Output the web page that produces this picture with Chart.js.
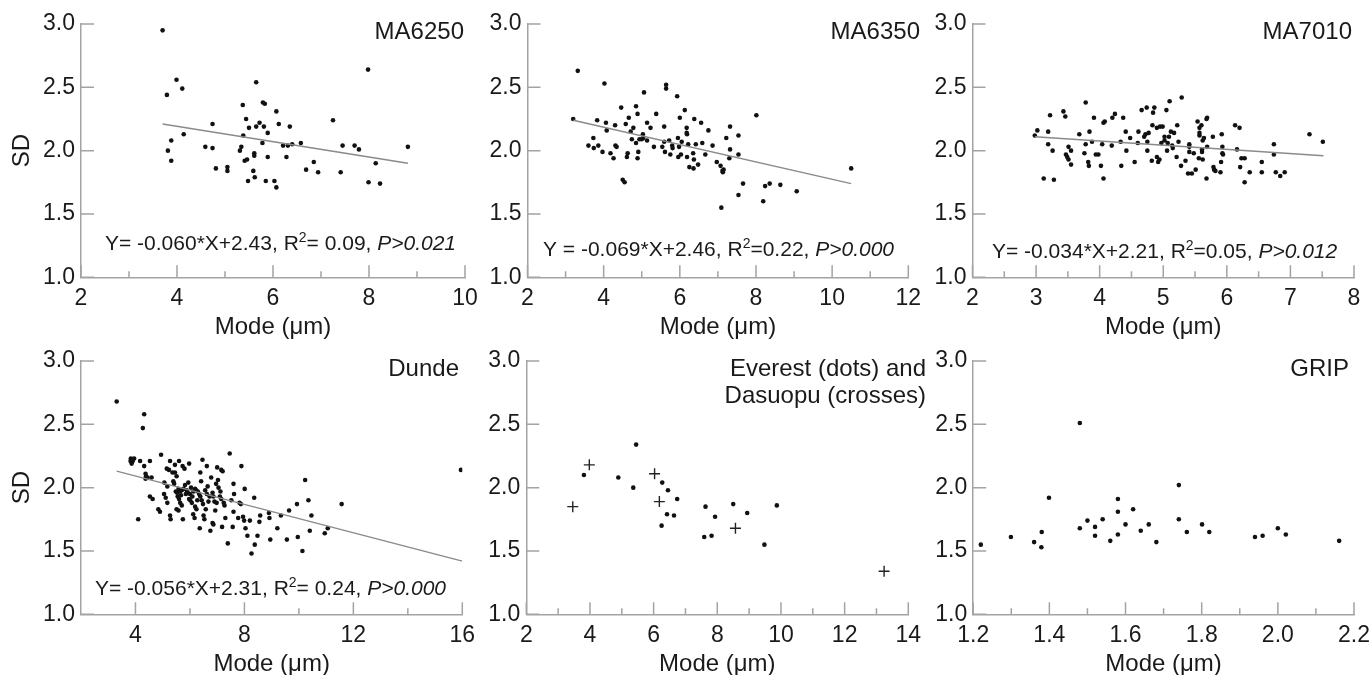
<!DOCTYPE html>
<html>
<head>
<meta charset="utf-8">
<script src="https://cdn.jsdelivr.net/npm/chart.js@4.4.0/dist/chart.umd.min.js"></script>
<style>
html, body { margin: 0; padding: 0; background: #fff; }
#wrap { position: relative; width: 1371px; height: 675px; overflow: hidden; }
#wrap canvas { position: absolute; left: 0; top: 0; }
</style>
</head>
<body>
<div id="wrap">
<canvas id="p1" width="1371" height="675"></canvas>
<canvas id="p2" width="1371" height="675"></canvas>
<canvas id="p3" width="1371" height="675"></canvas>
<canvas id="p4" width="1371" height="675"></canvas>
<canvas id="p5" width="1371" height="675"></canvas>
<canvas id="p6" width="1371" height="675"></canvas>
</div>
<script>
// tick labels
var sdTicks = [1.0, 1.5, 2.0, 2.5, 3.0];
var ma6250Ticks = [2, 4, 6, 8, 10];
var ma6350Ticks = [2, 4, 6, 8, 10, 12];
var ma7010Ticks = [2, 3, 4, 5, 6, 7, 8];
var dundeTicks = [4, 8, 12, 16];
var everestTicks = [2, 4, 6, 8, 10, 12, 14];
var gripTicks = [1.2, 1.4, 1.6, 1.8, 2.0, 2.2];

// MA6250
var ma6250X = [3.70,3.79,3.99,4.11,3.88,3.81,3.88,4.14,4.59,4.74,4.74,4.81,5.05,5.05,5.37,5.44,5.50,5.38,5.34,5.31,
  5.41,5.46,5.61,5.61,5.59,5.62,5.48,5.65,5.65,5.72,5.79,5.83,5.81,5.89,5.78,5.89,5.85,6.03,6.07,6.07,
  6.12,6.21,6.31,6.28,6.35,6.40,6.58,6.69,6.85,6.94,7.25,7.45,7.41,7.70,7.79,7.98,7.99,8.14,8.23,8.81];
var ma6250Y = [2.95,2.44,2.56,2.49,2.08,2.00,1.92,2.13,2.03,2.21,2.02,1.86,1.87,1.84,2.36,2.25,2.18,2.12,2.03,2.00,
  1.92,1.93,1.98,1.96,1.84,1.79,1.76,2.54,2.19,2.22,2.38,2.37,2.19,2.14,2.06,1.95,1.76,1.76,1.71,2.31,
  2.21,2.04,2.04,1.95,2.19,2.05,2.06,1.85,1.91,1.83,2.24,2.04,1.83,2.04,2.01,2.64,1.75,1.90,1.74,2.03];
var ma6250FitX = [3.70, 8.81];
var ma6250FitY = [2.21, 1.90];

// MA6350
var ma6350X = [3.20,3.32,3.60,3.73,3.74,3.86,3.83,4.02,4.06,4.08,3.97,4.18,4.26,4.30,4.31,4.34,4.46,4.50,4.55,4.58,
  4.63,4.61,4.66,4.71,4.78,4.74,4.85,4.89,4.85,4.91,4.89,4.94,5.03,5.04,5.00,5.06,5.14,5.23,5.14,5.32,
  5.38,5.59,5.64,5.64,5.54,5.59,5.61,5.72,5.75,5.80,5.81,5.93,5.95,5.98,5.96,6.03,6.05,6.00,6.13,6.18,
  6.18,6.19,6.19,6.22,6.25,6.35,6.37,6.38,6.36,6.42,6.48,6.56,6.59,6.67,6.75,6.86,6.97,7.07,7.12,7.15,
  7.13,7.09,7.22,7.32,7.32,7.30,7.54,7.54,7.66,7.54,8.01,8.19,8.24,8.36,8.64,9.07,10.50];
var ma6350Y = [2.25,2.63,2.04,2.10,2.02,2.04,2.24,2.53,2.22,2.16,1.99,1.98,1.94,2.20,2.04,2.03,2.34,1.77,1.75,2.21,
  1.98,1.95,2.26,2.15,2.18,2.09,2.35,2.29,2.06,1.99,1.94,2.09,2.13,2.10,2.09,2.46,2.22,2.18,2.08,2.03,
  2.29,2.19,2.52,2.49,2.03,2.07,1.99,2.08,1.97,2.04,2.02,2.43,2.10,2.03,1.95,1.97,2.07,2.26,2.32,2.18,
  2.14,2.13,1.95,2.05,1.87,1.98,1.93,2.25,1.86,2.05,1.89,2.22,2.06,1.97,2.16,2.04,1.91,1.88,1.84,1.85,
  1.83,1.55,2.10,2.19,2.01,1.94,2.12,1.97,1.74,1.65,2.28,1.60,1.72,1.74,1.73,1.68,1.86];
var ma6350FitX = [3.20, 10.50];
var ma6350FitY = [2.24, 1.74];

// MA7010
var ma7010X = [2.98,3.02,3.12,3.19,3.19,3.22,3.26,3.28,3.43,3.46,3.51,3.55,3.47,3.49,3.51,3.55,3.68,3.78,3.78,3.76,
  3.84,3.82,3.83,3.88,3.91,3.94,3.98,4.02,4.04,4.06,4.08,4.06,4.19,4.20,4.24,4.33,4.34,4.37,4.41,4.42,
  4.48,4.55,4.60,4.61,4.66,4.70,4.72,4.74,4.75,4.75,4.77,4.82,4.83,4.84,4.86,4.90,4.90,4.92,4.94,4.95,
  4.97,4.99,5.02,5.02,5.05,5.06,5.07,5.09,5.10,5.12,5.14,5.15,5.17,5.21,5.22,5.24,5.29,5.28,5.35,5.39,
  5.41,5.41,5.41,5.45,5.48,5.51,5.54,5.57,5.57,5.57,5.56,5.60,5.61,5.61,5.62,5.62,5.64,5.68,5.69,5.69,
  5.68,5.78,5.79,5.80,5.82,5.90,5.91,5.92,5.93,5.93,5.94,6.13,6.20,6.16,6.21,6.23,6.28,6.28,6.36,6.55,
  6.55,6.74,6.74,6.77,6.84,6.91,7.30,7.51];
var ma7010Y = [2.12,2.16,1.78,2.15,2.05,2.28,2.00,1.77,2.31,2.27,2.03,2.00,1.97,1.95,1.93,1.89,2.13,2.38,2.05,1.98,
  2.15,1.91,1.88,2.07,2.26,1.97,1.97,1.88,2.05,2.22,2.23,1.78,2.04,2.26,2.29,2.07,1.88,2.26,2.15,2.00,
  2.10,1.91,2.06,2.15,2.32,2.11,2.13,2.34,2.07,2.00,2.14,1.92,2.20,2.30,2.34,2.18,1.95,1.91,1.93,2.19,
  2.06,2.19,2.11,2.08,2.32,2.00,2.06,2.11,2.39,2.15,2.04,2.02,2.14,1.95,2.20,2.07,2.42,1.88,1.92,1.82,
  2.05,2.03,1.99,1.82,1.98,1.85,2.23,2.18,2.14,2.12,1.94,2.20,2.01,1.99,1.93,2.08,2.10,2.25,2.26,2.03,
  1.78,2.11,1.87,1.85,1.84,1.83,1.91,2.13,2.03,1.98,1.97,2.20,2.18,2.01,1.87,1.94,1.94,1.75,1.83,1.91,
  1.83,2.05,1.97,1.83,1.80,1.83,2.13,2.07];
var ma7010FitX = [2.98, 7.52];
var ma7010FitY = [2.11, 1.96];

// Dunde
var dundeX = [3.31,4.32,4.27,3.83,3.88,3.90,3.82,3.95,3.86,4.17,4.32,4.53,4.94,4.37,4.39,4.37,4.44,4.59,4.10,4.53,
  4.63,4.84,4.90,5.06,5.15,5.17,5.27,5.45,5.36,5.45,5.51,5.60,5.73,5.80,5.97,5.11,5.17,5.27,5.29,5.39,
  5.42,5.48,5.53,5.58,5.64,5.70,5.55,5.60,5.64,5.70,5.51,5.58,5.74,5.82,5.88,5.92,5.97,6.01,6.07,6.04,
  6.13,6.19,6.12,6.17,6.19,6.24,6.29,6.34,6.38,6.36,6.38,6.41,6.46,6.43,6.48,6.50,6.53,6.56,6.62,6.58,
  6.68,6.75,6.78,6.83,6.86,6.90,6.83,6.86,6.93,6.96,7.03,7.00,7.05,7.10,7.15,7.15,7.20,7.18,7.24,7.27,
  7.30,7.39,7.46,7.52,7.60,7.62,7.60,7.57,7.77,7.82,7.87,7.89,7.95,7.99,8.01,8.04,8.11,8.20,8.26,8.36,
  8.38,8.48,8.55,8.58,8.90,8.92,8.95,9.21,9.34,9.56,9.64,9.93,9.96,10.13,10.23,10.35,10.40,10.46,10.95,11.06,
  11.57,15.95,5.76,5.85,6.09,6.23,5.67,6.00,5.94,6.27,6.65,6.72,5.05,5.23,6.62,7.12,6.98];
var dundeY = [2.68,2.58,2.47,2.23,2.22,2.21,2.21,2.23,2.19,2.21,2.17,2.21,2.26,2.11,2.09,2.07,2.08,2.08,1.75,1.93,
  1.91,1.83,1.81,2.04,2.15,2.01,2.21,2.18,2.12,2.12,2.09,2.21,2.17,2.15,2.19,1.92,1.88,1.78,1.75,2.05,
  2.03,1.97,1.96,1.99,1.97,1.98,1.93,1.91,1.88,1.86,1.83,1.82,1.75,2.02,1.98,1.96,1.91,1.90,1.88,2.00,
  1.97,1.99,1.79,1.76,1.85,1.83,1.97,1.95,1.93,1.68,2.12,2.05,2.22,1.90,1.87,1.78,1.75,1.98,1.95,1.83,
  1.89,1.66,2.08,1.96,1.93,1.89,1.72,1.71,1.82,2.03,2.06,2.16,2.00,1.93,1.91,2.14,2.13,1.69,1.88,1.86,
  1.76,1.56,2.27,1.90,2.03,1.95,1.81,1.69,1.76,1.88,1.87,2.17,1.77,1.74,1.99,1.68,1.62,1.74,1.48,1.92,
  1.55,1.62,1.73,1.78,1.80,1.76,1.59,1.68,1.78,1.59,1.82,1.87,1.61,1.50,2.06,1.90,1.66,1.78,1.64,1.68,
  1.87,2.14,1.99,1.95,1.93,1.98,1.94,1.95,2.04,1.90,2.01,1.93,1.95,2.14,2.17,1.97,1.88];
var dundeFitX = [3.31, 16.0];
var dundeFitY = [2.13, 1.42];

// Everest (dots) and Dasuopu (crosses)
var everestX = [3.81,4.89,5.36,5.45,6.27,6.45,6.74,6.42,6.64,6.25,7.63,7.93,7.59,7.82,8.50,8.94,9.48,9.87];
var everestY = [2.10,2.08,2.00,2.34,2.04,1.98,1.91,1.79,1.78,1.70,1.85,1.77,1.61,1.62,1.87,1.80,1.55,1.86];
var dasuopuX = [3.46,3.98,6.03,6.18,8.57,13.24];
var dasuopuY = [1.85,2.18,2.11,1.89,1.68,1.34];

// GRIP
var gripX = [1.220,1.299,1.360,1.380,1.379,1.399,1.480,1.480,1.500,1.520,1.520,1.540,1.560,1.580,1.580,1.580,
  1.600,1.620,1.640,1.661,1.681,1.740,1.740,1.761,1.801,1.820,1.940,1.960,2.000,2.021,2.161];
var gripY = [1.55,1.61,1.57,1.65,1.53,1.92,2.51,1.68,1.74,1.69,1.62,1.75,1.58,1.91,1.81,1.63,
  1.71,1.83,1.66,1.71,1.57,2.02,1.75,1.65,1.71,1.65,1.61,1.62,1.68,1.63,1.58];

var W = 1371, H = 675;
var YW = 80, XH = 60;
var axisColor = '#a3a3a3';
var textColor = '#1a1a1a';
var fontFam = '"Liberation Sans", Arial, Helvetica, sans-serif';

Chart.defaults.font.family = fontFam;
Chart.defaults.color = textColor;

function pts(xs, ys) {
    return xs.map(function (x, i) { return {x: x, y: ys[i]}; });
}

// inner tick marks, panel titles and regression text
var panelDeco = {
    id: 'panelDeco',
    afterDraw: function (chart, args, opts) {
        var ctx = chart.ctx, a = chart.chartArea;
        var xs = chart.scales.x, ys = chart.scales.y;
        ctx.save();
        ctx.strokeStyle = axisColor;
        ctx.lineWidth = 1.5;
        ctx.beginPath();
        var xv = xs.ticks.map(function (t) { return t.value; });
        xv.forEach(function (v, i) {
            var px = xs.getPixelForValue(v);
            ctx.moveTo(px, a.bottom); ctx.lineTo(px, a.bottom - 12);
            if (i > 0) {
                var pm = xs.getPixelForValue((v + xv[i - 1]) / 2);
                ctx.moveTo(pm, a.bottom); ctx.lineTo(pm, a.bottom - 6);
            }
        });
        ys.ticks.forEach(function (t) {
            var py = ys.getPixelForValue(t.value);
            ctx.moveTo(a.left, py); ctx.lineTo(a.left + 13, py);
        });
        ctx.stroke();

        ctx.fillStyle = textColor;
        ctx.textBaseline = 'middle';
        ctx.textAlign = 'right';
        ctx.font = '24px ' + fontFam;
        opts.title.forEach(function (line, i) {
            ctx.fillText(line, opts.titleRight, opts.titleY + i * 27);
        });

        if (opts.eq) {
            var x = opts.eqX;
            ctx.textAlign = 'left';
            opts.eq.forEach(function (seg) {
                var y = opts.eqY;
                if (seg.sup) { ctx.font = '14px ' + fontFam; y -= 6; }
                else if (seg.it) ctx.font = 'italic 21px ' + fontFam;
                else ctx.font = '21px ' + fontFam;
                ctx.fillText(seg.t, x, y);
                x += ctx.measureText(seg.t).width;
            });
        }
        ctx.restore();
    }
};

function eqSegs(a, r, p) {
    return [{t: a + ', R'}, {t: '2', sup: true}, {t: r + ', '}, {t: p, it: true}];
}

function makePanel(id, c) {
    var datasets = [];
    if (c.fitX) {
        datasets.push({
            data: pts(c.fitX, c.fitY), showLine: true, borderColor: '#8a8a8a',
            borderWidth: 1.4, pointRadius: 0, fill: false
        });
    }
    datasets.push({
        data: pts(c.xs, c.ys), pointRadius: 2.3, pointBorderWidth: 0,
        backgroundColor: '#111', borderColor: '#111'
    });
    if (c.crossX) {
        datasets.push({
            data: pts(c.crossX, c.crossY), pointStyle: 'cross', pointRadius: 5.5,
            borderWidth: 1.4, borderColor: '#222'
        });
    }
    new Chart(id, {
        type: 'scatter',
        data: {datasets: datasets},
        options: {
            responsive: false,
            animation: false,
            devicePixelRatio: 1,
            events: [],
            layout: {padding: {left: c.L - YW, right: W - c.R, top: c.T, bottom: H - c.B - XH}},
            plugins: {
                legend: {display: false},
                tooltip: {enabled: false},
                panelDeco: {
                    title: c.title, titleRight: c.titleRight, titleY: c.T + 8,
                    eq: c.eq, eqX: c.eqX, eqY: c.eqY
                }
            },
            scales: {
                x: {
                    type: 'linear', min: c.xMin, max: c.xMax,
                    afterBuildTicks: function (s) { s.ticks = c.xTicks.map(function (v) { return {value: v}; }); },
                    afterFit: function (s) { s.height = XH; s.paddingLeft = 0; s.paddingRight = 0; },
                    grid: {drawOnChartArea: false, drawTicks: false},
                    border: {display: true, color: axisColor, width: 1.5},
                    ticks: {
                        autoSkip: false, maxRotation: 0, padding: 8, color: textColor,
                        font: {size: 23},
                        callback: function (v) { return c.xDec ? v.toFixed(c.xDec) : String(v); }
                    },
                    title: {
                        display: true, text: 'Mode (\u03bcm)', color: textColor,
                        font: {size: 24, lineHeight: 0.8}, padding: {top: 0, bottom: 0}
                    }
                },
                y: {
                    type: 'linear', min: 1, max: 3,
                    afterBuildTicks: function (s) { s.ticks = sdTicks.map(function (v) { return {value: v}; }); },
                    afterFit: function (s) { s.width = YW; s.paddingTop = 0; s.paddingBottom = 0; },
                    grid: {drawOnChartArea: false, drawTicks: false},
                    border: {display: true, color: axisColor, width: 1.5},
                    ticks: {
                        padding: 6, color: textColor, font: {size: 23},
                        callback: function (v) { return v.toFixed(1); }
                    },
                    title: {
                        display: !!c.sd, text: 'SD', color: textColor,
                        font: {size: 24, lineHeight: 1}, padding: {top: 9, bottom: 0}
                    }
                }
            }
        },
        plugins: [panelDeco]
    });
}

makePanel('p1', {
    L: 81, R: 465, T: 24, B: 277.3, xMin: 2, xMax: 10, xTicks: ma6250Ticks, sd: true,
    xs: ma6250X, ys: ma6250Y, fitX: ma6250FitX, fitY: ma6250FitY,
    title: ['MA6250'], titleRight: 464,
    eq: eqSegs('Y= -0.060*X+2.43', '= 0.09', 'P>0.021'), eqX: 105, eqY: 244
});
makePanel('p2', {
    L: 527.5, R: 908.3, T: 24, B: 277.3, xMin: 2, xMax: 12, xTicks: ma6350Ticks,
    xs: ma6350X, ys: ma6350Y, fitX: ma6350FitX, fitY: ma6350FitY,
    title: ['MA6350'], titleRight: 920,
    eq: eqSegs('Y = -0.069*X+2.46', '=0.22', 'P>0.000'), eqX: 543, eqY: 250
});
makePanel('p3', {
    L: 972.5, R: 1354, T: 24, B: 277.3, xMin: 2, xMax: 8, xTicks: ma7010Ticks,
    xs: ma7010X, ys: ma7010Y, fitX: ma7010FitX, fitY: ma7010FitY,
    title: ['MA7010'], titleRight: 1352,
    eq: eqSegs('Y= -0.034*X+2.21', '=0.05', 'P>0.012'), eqX: 992, eqY: 252
});
makePanel('p4', {
    L: 81, R: 462.3, T: 361, B: 614.3, xMin: 2, xMax: 16, xTicks: dundeTicks, sd: true,
    xs: dundeX, ys: dundeY, fitX: dundeFitX, fitY: dundeFitY,
    title: ['Dunde'], titleRight: 459,
    eq: eqSegs('Y= -0.056*X+2.31', '= 0.24', 'P>0.000'), eqX: 95, eqY: 589
});
makePanel('p5', {
    L: 526.3, R: 908.3, T: 361, B: 614.3, xMin: 2, xMax: 14, xTicks: everestTicks,
    xs: everestX, ys: everestY, crossX: dasuopuX, crossY: dasuopuY,
    title: ['Everest (dots) and', 'Dasuopu (crosses)'], titleRight: 926
});
makePanel('p6', {
    L: 973.2, R: 1354, T: 361, B: 614.3, xMin: 1.2, xMax: 2.2, xTicks: gripTicks, xDec: 1,
    xs: gripX, ys: gripY,
    title: ['GRIP'], titleRight: 1349
});
</script>
</body>
</html>
